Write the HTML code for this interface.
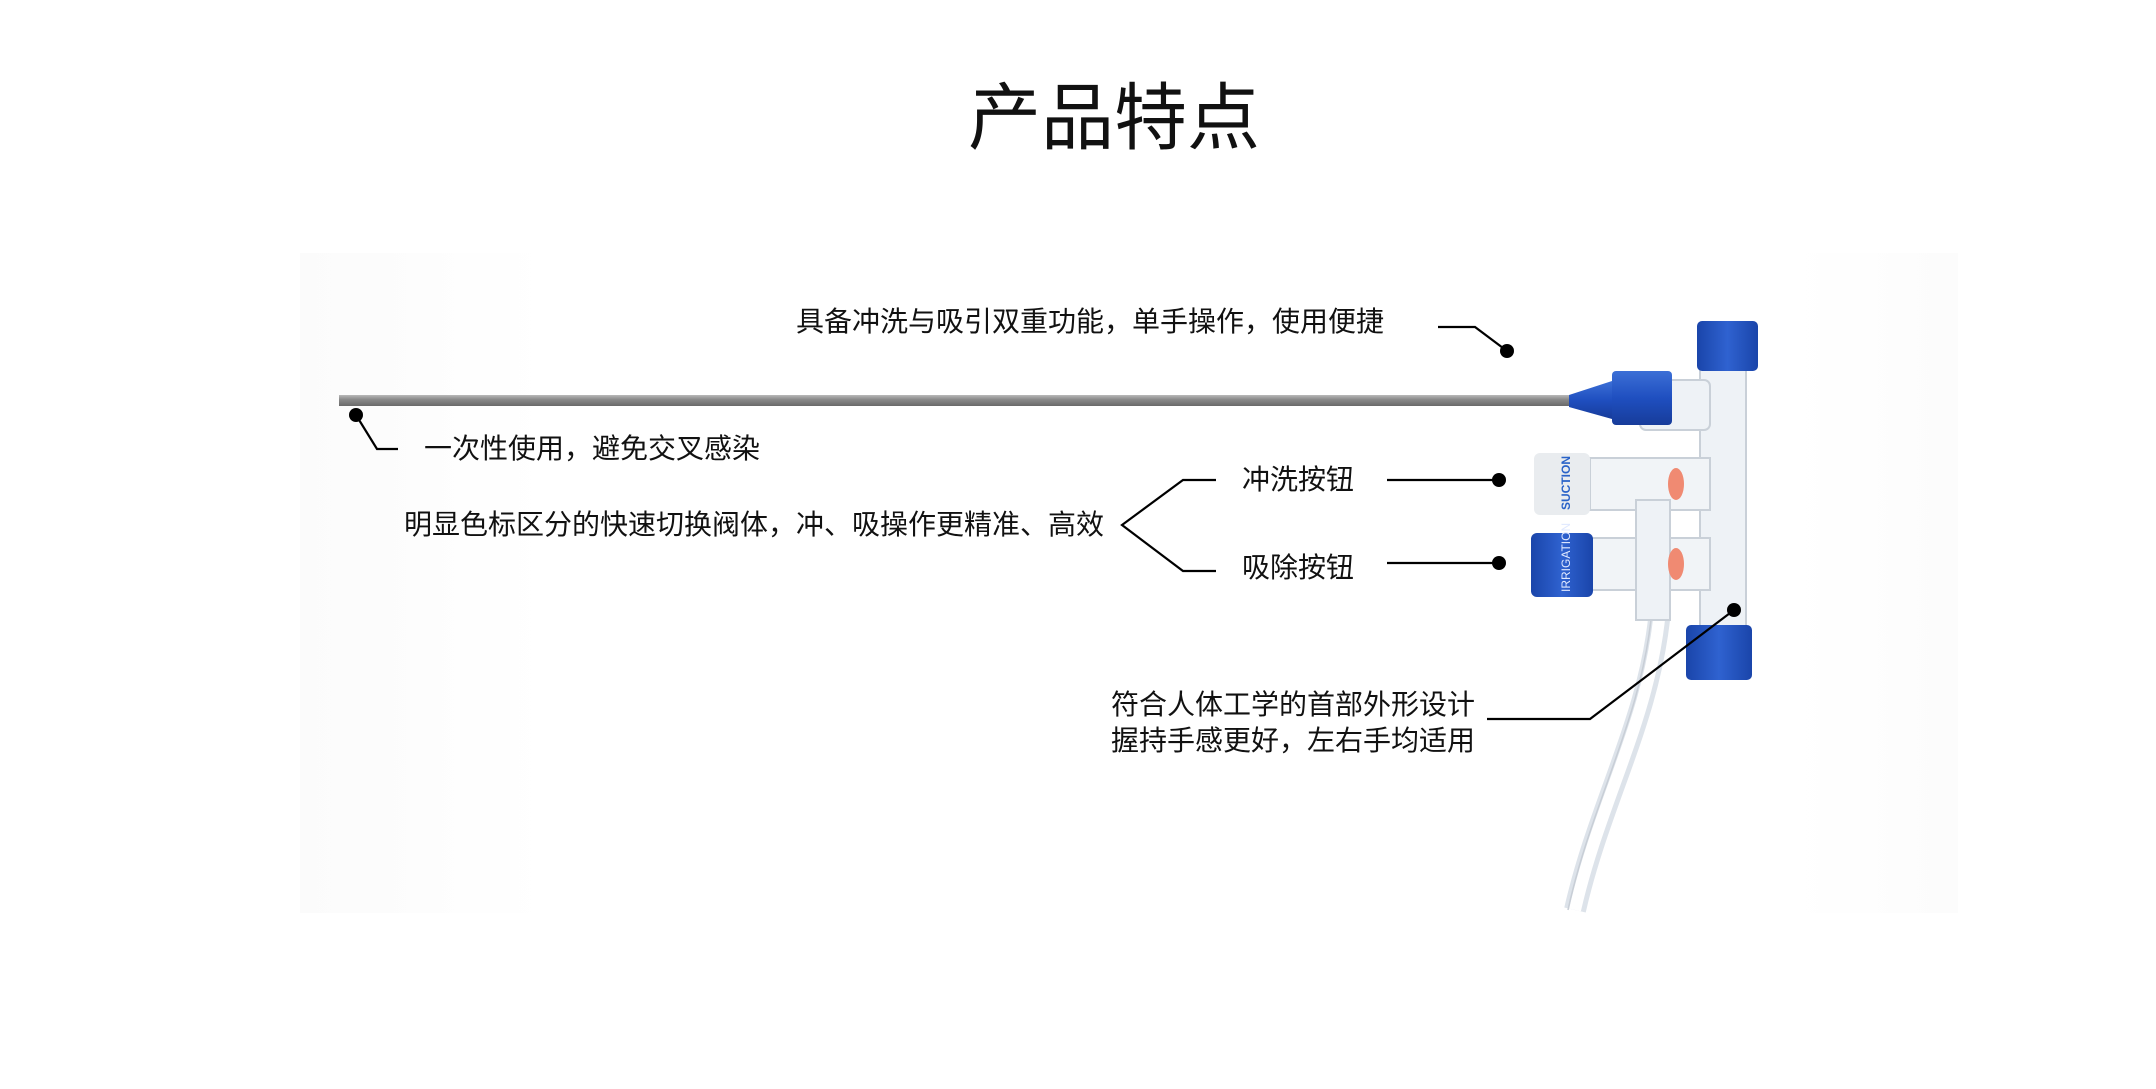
<!DOCTYPE html>
<html><head><meta charset="utf-8"><style>
html,body{margin:0;padding:0;background:#fff;}
body{width:2156px;height:1084px;overflow:hidden;}
text{font-family:"Liberation Sans","Noto Sans CJK SC",sans-serif;fill:#111;}
</style></head><body>
<svg width="2156" height="1084" viewBox="0 0 2156 1084">
<defs>
<linearGradient id="bg" x1="0" y1="0" x2="1" y2="0">
<stop offset="0" stop-color="#fbfbfb"/><stop offset="0.15" stop-color="#fff"/><stop offset="0.9" stop-color="#fff"/><stop offset="1" stop-color="#fcfcfc"/></linearGradient>
<linearGradient id="shaft" x1="0" y1="0" x2="0" y2="1">
<stop offset="0" stop-color="#b9b9b9"/><stop offset="0.4" stop-color="#8a8a8a"/><stop offset="1" stop-color="#6a6a6a"/></linearGradient>
<linearGradient id="blue" x1="0" y1="0" x2="0" y2="1">
<stop offset="0" stop-color="#3c6fd6"/><stop offset="0.5" stop-color="#1f4fc0"/><stop offset="1" stop-color="#173c9a"/></linearGradient>
<linearGradient id="blueh" x1="0" y1="0" x2="1" y2="0">
<stop offset="0" stop-color="#1a45aa"/><stop offset="0.5" stop-color="#2f62d0"/><stop offset="1" stop-color="#1a45aa"/></linearGradient>
</defs>
<rect x="300" y="253" width="1658" height="660" fill="url(#bg)"/>
<text x="1114" y="143" font-size="73" text-anchor="middle">产品特点</text>

<path d="M1660 610 C1650 720 1600 800 1575 910" stroke="#dde3ea" stroke-width="22" fill="none"/>
<path d="M1660 610 C1650 720 1600 800 1575 910" stroke="#fff" stroke-width="12" fill="none"/>
<path d="M1652 610 C1642 720 1592 800 1568 910" stroke="#c8ced6" stroke-width="1.5" fill="none"/>
<rect x="1700" y="360" width="46" height="280" fill="#eef2f6" stroke="#c9d0d8" stroke-width="2"/>
<rect x="1640" y="380" width="70" height="50" rx="6" fill="#eef2f6" stroke="#c9d0d8" stroke-width="2"/>
<rect x="1590" y="458" width="120" height="52" fill="#f1f4f7" stroke="#c9d0d8" stroke-width="2"/>
<rect x="1590" y="538" width="120" height="52" fill="#f1f4f7" stroke="#c9d0d8" stroke-width="2"/>
<rect x="1636" y="500" width="34" height="120" fill="#eef2f6" stroke="#c9d0d8" stroke-width="2"/>
<ellipse cx="1676" cy="484" rx="8" ry="16" fill="#f08a72"/>
<ellipse cx="1676" cy="564" rx="8" ry="16" fill="#f08a72"/>
<rect x="339" y="395" width="1240" height="11" fill="url(#shaft)"/>
<path d="M1569 395 L1612 381 L1612 419 L1569 407 Z" fill="url(#blue)"/>
<rect x="1612" y="371" width="60" height="54" rx="4" fill="url(#blue)"/>
<rect x="1697" y="321" width="61" height="50" rx="5" fill="url(#blueh)"/>
<rect x="1686" y="625" width="66" height="55" rx="5" fill="url(#blueh)"/>
<rect x="1534" y="453" width="56" height="62" rx="6" fill="#e9ecef"/>
<text transform="translate(1570,510) rotate(-90)" font-size="12" style="fill:#2a63c8;font-weight:bold">SUCTION</text>
<rect x="1531" y="533" width="62" height="64" rx="6" fill="url(#blueh)"/>
<text transform="translate(1570,592) rotate(-90)" font-size="12" style="fill:#dfe8ff">IRRIGATION</text>

<g font-size="28">
<text x="796" y="331">具备冲洗与吸引双重功能，单手操作，使用便捷</text>
<text x="424" y="458">一次性使用，避免交叉感染</text>
<text x="404" y="534">明显色标区分的快速切换阀体，冲、吸操作更精准、高效</text>
<text x="1242" y="489">冲洗按钮</text>
<text x="1242" y="577">吸除按钮</text>
<text x="1111" y="714">符合人体工学的首部外形设计</text>
<text x="1111" y="750">握持手感更好，左右手均适用</text>
</g>
<g stroke="#000" stroke-width="2.2" fill="none">
<polyline points="1438,327 1475,327 1507,351"/>
<polyline points="356,415 377,449 398,449"/>
<polyline points="1216,480 1183,480 1122,525 1183,571 1216,571"/>
<line x1="1387" y1="480" x2="1499" y2="480"/>
<line x1="1387" y1="563" x2="1499" y2="563"/>
<polyline points="1487,719 1590,719 1734,610"/>
</g>
<g fill="#000">
<circle cx="1507" cy="351" r="7"/>
<circle cx="356" cy="415" r="7"/>
<circle cx="1499" cy="480" r="7"/>
<circle cx="1499" cy="563" r="7"/>
<circle cx="1734" cy="610" r="7"/>
</g>
</svg>
</body></html>
